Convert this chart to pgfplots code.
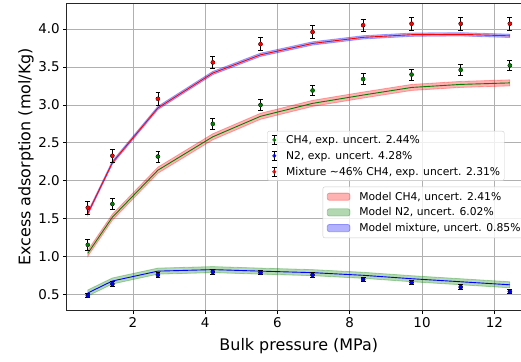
\documentclass[border=0pt]{standalone}
\usepackage{fontspec}
\setmainfont{DejaVu Sans}
\usepackage{pgfplots}
\pgfplotsset{compat=1.18}
\usepackage{pgfplotstable}
\usepgfplotslibrary{fillbetween}
\usetikzlibrary{calc}

\definecolor{mplgreen}{RGB}{0,128,0}
\definecolor{gridgray}{RGB}{176,176,176}
\definecolor{legendedge}{RGB}{204,204,204}

% model isotherms (mol/kg) at the measured pressures (MPa)
\pgfplotstableread{
x      ch4    n2     mix
0.75   1.045  0.522  1.57
1.43   1.52   0.68   2.24
2.69   2.14   0.81   2.96
4.21   2.58   0.83   3.42
5.53   2.85   0.81   3.66
6.97   3.02   0.79   3.81
8.37   3.13   0.755  3.89
9.71   3.23   0.71   3.925
11.07  3.27   0.67   3.93
12.43  3.29   0.63   3.91
}\modeltab

% measured excess adsorption with absolute uncertainties
\pgfplotstableread{
x      ch4    ch4e   n2     n2e    mix    mixe
0.75   1.156  0.071  0.487  0.029  1.646  0.083
1.43   1.694  0.071  0.64   0.029  2.33   0.083
2.69   2.32   0.071  0.76   0.029  3.08   0.083
4.21   2.75   0.071  0.80   0.029  3.56   0.083
5.53   3.00   0.071  0.79   0.029  3.80   0.083
6.97   3.19   0.071  0.76   0.029  3.96   0.083
8.37   3.34   0.071  0.70   0.029  4.05   0.083
9.71   3.40   0.071  0.66   0.029  4.07   0.083
11.07  3.46   0.071  0.60   0.029  4.07   0.083
12.43  3.52   0.071  0.54   0.029  4.07   0.083
}\exptab

% half widths of the model uncertainty bands
\def\bandch{0.040}
\def\bandn{0.040}
\def\bandmix{0.022}

\pgfplotsset{
  base/.style={
    scale only axis, width=464.1bp, height=307.4bp,
    xmin=0.166, xmax=13.01, ymin=0.29, ymax=4.34,
    at={(0,0)}, anchor=south west,
  },
  leg/.style={
    draw=legendedge, rounded corners=2bp, fill=white, fill opacity=0.8,
    text opacity=1, draw opacity=1, font=\fontsize{10.8}{13}\selectfont,
    cells={anchor=west}, nodes={inner sep=0bp}, inner xsep=4bp,
    column sep=9bp,
  },
  band/.style={fill=#1, draw=#1, fill opacity=0.3, draw opacity=0.3, line width=0.8bp},
  bandimg/.style={legend image code/.code={
    \draw[fill=#1, draw=#1, fill opacity=0.3, draw opacity=0.3, line width=0.8bp]
      (0bp,-3.6bp) rectangle (22.6bp,3.6bp);}},
  ebimg/.style={legend image code/.code={
    \draw[black, line width=0.8bp] (7bp,-4.2bp) -- (7bp,4.2bp)
      (4.6bp,-4.2bp) -- (9.4bp,-4.2bp) (4.6bp,4.2bp) -- (9.4bp,4.2bp);
    \fill[#1] (7bp,0) circle (1.8bp);}},
  % error bars alone; the dots are drawn over them afterwards
  ebars/.style={only marks, mark=none,
    error bars/y dir=both, error bars/y explicit,
    error bars/error bar style={black, line width=0.8bp},
    error bars/error mark options={rotate=90, black, mark size=2.4bp, line width=0.8bp}},
  dots/.style={only marks, mark=*, mark size=1.8bp, color=#1, forget plot},
}

\begin{document}
\begin{tikzpicture}
\begin{axis}[base, name=main,
  xtick={2,4,6,8,10,12},
  ytick={0.5,1.0,1.5,2.0,2.5,3.0,3.5,4.0},
  yticklabel style={/pgf/number format/fixed, /pgf/number format/fixed zerofill,
    /pgf/number format/precision=1},
  /pgf/number format/assume math mode=true,
  tick align=outside, tick pos=left, major tick length=3.5bp,
  tick style={black, line width=0.8bp},
  axis line style={line width=0.8bp, black!85},
  grid=major, grid style={gridgray, line width=0.8bp},
  ticklabel style={font=\fontsize{13.5}{16}\selectfont},
  label style={font=\fontsize{16}{19}\selectfont},
  xlabel={Bulk pressure (MPa)},
  ylabel={Excess adsorption (mol/Kg)},
  xlabel style={yshift=-4bp},
  ylabel style={inner sep=1bp},
  legend cell align=left,
  legend style={leg, inner ysep=5bp, row sep=6bp,
    at={(0.5516,0.4031)}, anchor=north west},
]
  \addplot[draw=none, name path=chU, forget plot] table[x=x, y expr=\thisrow{ch4}+\bandch] {\modeltab};
  \addplot[draw=none, name path=chL, forget plot] table[x=x, y expr=\thisrow{ch4}-\bandch] {\modeltab};
  \addplot[draw=none, name path=nU, forget plot] table[x=x, y expr=\thisrow{n2}+\bandn] {\modeltab};
  \addplot[draw=none, name path=nL, forget plot] table[x=x, y expr=\thisrow{n2}-\bandn] {\modeltab};
  \addplot[draw=none, name path=mU, forget plot] table[x=x, y expr=\thisrow{mix}+\bandmix] {\modeltab};
  \addplot[draw=none, name path=mL, forget plot] table[x=x, y expr=\thisrow{mix}-\bandmix] {\modeltab};

  \addplot[band=red, bandimg=red] fill between[of=chU and chL];
  \addlegendentry{Model CH4, uncert. 2.41\%}
  \addplot[band=mplgreen, bandimg=mplgreen] fill between[of=nU and nL];
  \addlegendentry{Model N2, uncert. 6.02\%}
  \addplot[band=blue, bandimg=blue] fill between[of=mU and mL];
  \addlegendentry{Model mixture, uncert. 0.85\%}

  \addplot[mplgreen, line width=0.9bp, forget plot] table[x=x, y=ch4] {\modeltab};
  \addplot[blue, line width=0.9bp, forget plot] table[x=x, y=n2] {\modeltab};
  \addplot[red, line width=0.9bp, forget plot] table[x=x, y=mix] {\modeltab};
\end{axis}

\begin{axis}[base, hide axis,
  legend cell align=left,
  legend style={leg, inner ysep=4bp, row sep=6.4bp,
    at={(0.4322,0.5843)}, anchor=north west},
]
  \addplot[ebimg=mplgreen, ebars] table[x=x, y=ch4, y error=ch4e] {\exptab};
  \addlegendentry{CH4, exp. uncert. 2.44\%}
  \addplot[ebimg=blue, ebars] table[x=x, y=n2, y error=n2e] {\exptab};
  \addlegendentry{N2, exp. uncert. 4.28\%}
  \addplot[ebimg=red, ebars] table[x=x, y=mix, y error=mixe] {\exptab};
  \addlegendentry{Mixture \char"223C 46\% CH4, exp. uncert. 2.31\%}

  \addplot[dots=mplgreen] table[x=x, y=ch4] {\exptab};
  \addplot[dots=blue] table[x=x, y=n2] {\exptab};
  \addplot[dots=red] table[x=x, y=mix] {\exptab};
\end{axis}

\pgfresetboundingbox
\path[use as bounding box] ($(main.south west)+(-66.7bp,-51.4bp)$)
  rectangle ($(main.south west)+(454.3bp,310.6bp)$);
\end{tikzpicture}
\end{document}
